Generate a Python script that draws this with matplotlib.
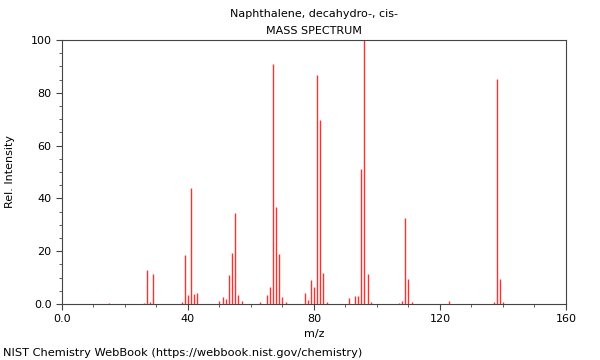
import matplotlib.pyplot as plt
from matplotlib.ticker import MultipleLocator, FixedLocator

# peaks
mz = [15, 26, 27, 28, 29, 38, 39, 40, 41, 42, 43,
      50, 51, 52, 53, 54, 55, 56, 57,
      63, 65, 66, 67, 68, 69, 70, 71,
      77, 78, 79, 80, 81, 82, 83, 84,
      91, 93, 94, 95, 96, 97, 98,
      107, 108, 109, 110, 111, 123,
      137, 138, 139, 140]
intensity = [0.5, 0.5, 12.9, 0.8, 11.2, 0.8, 18.6, 3.4, 43.9, 3.8, 4.0,
             1.0, 2.8, 1.8, 10.9, 19.3, 34.3, 3.3, 1.2,
             0.9, 3.4, 6.6, 91.0, 36.7, 18.9, 2.7, 0.8,
             4.3, 1.4, 9.0, 6.4, 86.6, 69.8, 11.9, 0.8,
             2.3, 3.0, 3.2, 51.0, 100.0, 11.2, 0.8,
             0.5, 1.3, 32.6, 9.6, 0.8, 1.3,
             0.8, 85.1, 9.6, 0.6]

x_ticks = [0, 40, 80, 120, 160]
x_labels = ["0.0", "40", "80", "120", "160"]
y_ticks = [0, 20, 40, 60, 80, 100]
y_labels = ["0.0", "20", "40", "60", "80", "100"]

plt.rcParams["font.family"] = "DejaVu Sans"
fig = plt.figure(figsize=(6, 3.6), dpi=100)
ax = fig.add_axes([0.1033, 0.1556, 0.84, 0.7333])

ax.vlines(mz, 0, intensity, color="#ff3030", linewidth=1.0)

ax.set_xlim(0, 160)
ax.set_ylim(0, 100)
ax.xaxis.set_major_locator(FixedLocator(x_ticks))
ax.set_xticklabels(x_labels)
ax.yaxis.set_major_locator(FixedLocator(y_ticks))
ax.set_yticklabels(y_labels)
ax.xaxis.set_minor_locator(MultipleLocator(10))
ax.yaxis.set_minor_locator(MultipleLocator(5))
ax.tick_params(axis="both", which="major", labelsize=8, length=4, color="#444444")
ax.tick_params(axis="both", which="minor", length=2.5, color="#444444")
for s in ax.spines.values():
    s.set_color("#444444")
    s.set_linewidth(0.8)

ax.set_xlabel("m/z", fontsize=8, labelpad=3)
ax.set_ylabel("Rel. Intensity", fontsize=8, labelpad=11)

fig.text(0.523, 0.962, "Naphthalene, decahydro-, cis-", ha="center", va="center", fontsize=8)
fig.text(0.523, 0.915, "MASS SPECTRUM", ha="center", va="center", fontsize=8)
fig.text(0.005, 0.02, "NIST Chemistry WebBook (https://webbook.nist.gov/chemistry)",
         ha="left", va="center", fontsize=8.2)

fig.savefig("out.png", dpi=100)
